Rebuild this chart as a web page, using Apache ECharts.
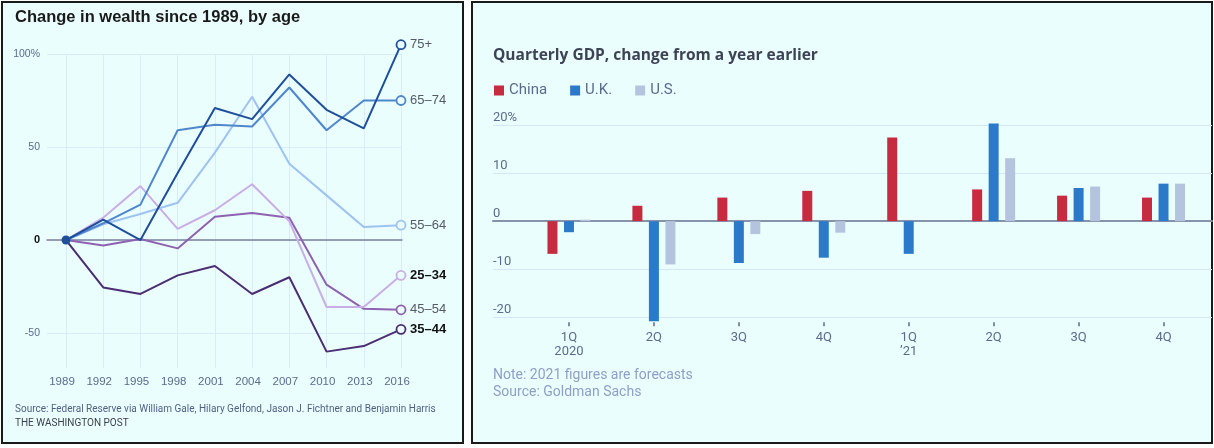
<!DOCTYPE html>
<html>
<head>
<meta charset="utf-8">
<script src="https://cdn.jsdelivr.net/npm/echarts@6/dist/echarts.min.js"></script>
<style>
  html, body { margin: 0; padding: 0; background: #ffffff; }
  #chart { width: 1214px; height: 448px; }
</style>
</head>
<body>
<div id="chart"></div>
<script>
//------------------------ data: wealth by age ------------------//
var years = ['1989', '1992', '1995', '1998', '2001', '2004', '2007', '2010', '2013', '2016'];
var age75 = [0, 11, 0, 36, 71, 65, 89, 70, 60, 105];
var age6574 = [0, 9, 19, 59, 62, 61, 82, 59, 75, 75];
var age5564 = [0, 8.5, 14, 20, 47, 77, 41, 24, 7, 8];
var age2534 = [0, 12, 29, 6, 16, 30, 10, -36, -36, -19];
var age4554 = [0, -3, 0.5, -4.5, 12.5, 14.5, 12, -24, -37, -37.5];
var age3544 = [0, -25.5, -29, -19, -14, -29, -20, -60, -57, -48];
var wealthTicks = [-50, 0, 50, 100];

//------------------------ data: quarterly GDP ------------------//
var quarters = ['2020Q1', '2020Q2', '2020Q3', '2020Q4', '2021Q1', '2021Q2', '2021Q3', '2021Q4'];
var quarterLabels = ['1Q\n2020', '2Q', '3Q', '4Q', '1Q\n\u201921', '2Q', '3Q', '4Q'];
var gdpChina = [-6.8, 3.2, 4.9, 6.3, 17.4, 6.6, 5.3, 4.9];
var gdpUK = [-2.3, -20.8, -8.7, -7.6, -6.8, 20.3, 6.9, 7.8];
var gdpUS = [0.3, -9.0, -2.7, -2.4, 0, 13.1, 7.2, 7.8];

var bg = '#ebfefe';
var axisText = '#5b6b8c';

// line with hollow circle at the end, optional filled dot at start
function ageLine(name, values, color, bold, startDot) {
    var data = values.map(function (v, i) {
        if (i === values.length - 1) {
            return { value: v, symbol: 'circle', symbolSize: 9,
                itemStyle: { color: bg, borderColor: color, borderWidth: 1.8 } };
        }
        if (i === 0 && startDot) {
            return { value: v, symbol: 'circle', symbolSize: 9, itemStyle: { color: color } };
        }
        return { value: v, symbol: 'none' };
    });
    return {
        name: name,
        type: 'line',
        xAxisIndex: 1,
        yAxisIndex: 1,
        data: data,
        symbol: 'none',
        clip: false,
        silent: true,
        lineStyle: { color: color, width: 2 },
        endLabel: {
            show: true,
            formatter: function () { return name; },
            color: bold ? '#111111' : '#555a66',
            fontWeight: bold ? 'bold' : 'normal',
            fontSize: 13,
            fontFamily: 'Liberation Sans',
            distance: 9
        }
    };
}

function gdpBar(name, values, color) {
    return {
        name: name,
        type: 'bar',
        xAxisIndex: 3,
        yAxisIndex: 3,
        data: values,
        barWidth: 10,
        barGap: '65%',
        clip: false,
        silent: true,
        itemStyle: { color: color }
    };
}

function text(x, y, str, font, fill) {
    return { type: 'text', x: x, y: y, z: 10,
        style: { text: str, font: font, fill: fill, verticalAlign: 'middle' } };
}

var option = {
    backgroundColor: '#ffffff',
    animation: false,
    graphic: [
        { type: 'rect', z: -10, shape: { x: 2, y: 2, width: 461, height: 441 },
          style: { fill: bg, stroke: '#1a1a1a', lineWidth: 2 } },
        { type: 'rect', z: -10, shape: { x: 472, y: 2, width: 740, height: 441 },
          style: { fill: bg, stroke: '#1a1a1a', lineWidth: 2 } },
        text(15, 17, 'Change in wealth since 1989, by age', 'bold 16.5px "Liberation Sans"', '#1a1a1a'),
        text(15, 409, 'Source: Federal Reserve via William Gale, Hilary Gelfond, Jason J. Fichtner and Benjamin Harris', '10px Roboto', '#4f5f82'),
        text(15, 423, 'THE WASHINGTON POST', '10px Roboto', '#3a3f4a'),
        text(493, 56, 'Quarterly GDP, change from a year earlier', 'bold 15.5px "Open Sans"', '#3d4354'),
        text(493, 375, 'Note: 2021 figures are forecasts', '14px Roboto', '#8d9fc6'),
        text(493, 392, 'Source: Goldman Sachs', '14px Roboto', '#8d9fc6')
    ],
    legend: {
        data: ['China', 'U.K.', 'U.S.'],
        left: 494,
        top: 83,
        padding: 0,
        itemWidth: 10,
        itemHeight: 10,
        itemGap: 23,
        icon: 'rect',
        textStyle: { color: axisText, fontSize: 15, fontFamily: 'Roboto' }
    },
    grid: [
        { left: 47, top: 54, width: 355, height: 279 },
        { left: 66, top: 54, width: 335, height: 314 },
        { left: 493, top: 125, width: 719, height: 192.3 },
        { left: 526.5, top: 125, width: 679.5, height: 192.3 }
    ],
    xAxis: [
        { gridIndex: 0, type: 'value', min: 0, max: 1,
          axisLine: { show: true, onZero: true, lineStyle: { color: '#7c7fa0', width: 1.5 } },
          axisTick: { show: false }, axisLabel: { show: false }, splitLine: { show: false } },
        { gridIndex: 1, type: 'category', data: years, boundaryGap: false,
          axisLine: { show: false, onZero: false }, axisTick: { show: false },
          splitLine: { show: true, lineStyle: { color: '#d8ecfb', width: 1 } },
          axisLabel: { color: axisText, fontSize: 11.5, fontFamily: 'Liberation Sans', margin: 8, padding: [0, 8, 0, 0] } },
        { gridIndex: 2, type: 'value', min: 0, max: 1,
          axisLine: { show: true, onZero: true, lineStyle: { color: '#8793ab', width: 2 } },
          axisTick: { show: false }, axisLabel: { show: false }, splitLine: { show: false } },
        { gridIndex: 3, type: 'category', data: quarters, offset: 5,
          axisLine: { show: false, onZero: false },
          axisTick: { show: true, alignWithLabel: true, length: 4, lineStyle: { color: axisText, width: 1.5 } },
          axisLabel: { color: axisText, fontSize: 13, fontFamily: 'Roboto', lineHeight: 14, margin: 8,
              formatter: function (v, i) { return quarterLabels[i]; } },
          splitLine: { show: false } }
    ],
    yAxis: [
        { gridIndex: 0, type: 'value', min: -50, max: 100, interval: 50,
          axisLine: { show: false }, axisTick: { show: false },
          splitLine: { lineStyle: { color: '#d8ecfb', width: 1 } },
          axisLabel: { margin: 7, color: axisText, fontSize: 10.5, fontFamily: 'Liberation Sans',
              formatter: function (v) {
                  if (wealthTicks.indexOf(v) < 0) return '';
                  if (v === 0) return '{z|0}';
                  return v === 100 ? '100%' : String(v);
              },
              rich: { z: { color: '#111111', fontWeight: 'bold', fontSize: 11 } } } },
        { gridIndex: 1, type: 'value', min: -68.8, max: 100, show: false },
        { gridIndex: 2, type: 'value', min: -20, max: 20, interval: 10,
          axisLine: { show: false }, axisTick: { show: false },
          splitLine: { lineStyle: { color: '#d2e9f5', width: 1 } },
          axisLabel: { inside: true, margin: 0, align: 'left', verticalAlign: 'bottom',
              padding: [0, 0, 1, 0], color: axisText, fontSize: 13, fontFamily: 'Roboto',
              formatter: function (v) { return v === 20 ? '20%' : String(v); } } },
        { gridIndex: 3, type: 'value', min: -20, max: 20, show: false }
    ],
    series: [
        ageLine('35\u201344', age3544, '#4b2d72', true, false),
        ageLine('45\u201354', age4554, '#8e62b0', false, false),
        ageLine('25\u201334', age2534, '#c9aee6', true, false),
        ageLine('55\u201364', age5564, '#9fc3f0', false, false),
        ageLine('65\u201374', age6574, '#4f86cc', false, false),
        ageLine('75+', age75, '#1f4e9a', false, true),
        gdpBar('China', gdpChina, '#c62b40'),
        gdpBar('U.K.', gdpUK, '#2b79c9'),
        gdpBar('U.S.', gdpUS, '#b5c4de')
    ]
};

var myChart = echarts.init(document.getElementById('chart'));
myChart.setOption(option);
</script>
</body>
</html>
